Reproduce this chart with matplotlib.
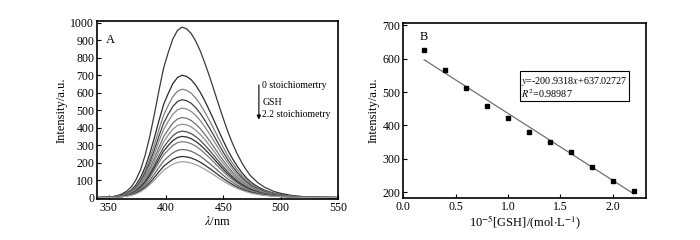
import numpy as np
import matplotlib
matplotlib.use('Agg')
import matplotlib.pyplot as plt

plt.rcParams['font.family'] = ['Liberation Serif', 'DejaVu Serif']
plt.rcParams['mathtext.fontset'] = 'stix'

# Panel A: emission spectra (profile of the strongest curve)
wavelength = [340, 345, 350, 354, 358, 362, 366, 370, 374, 378, 382, 386, 390,
              394, 398, 402, 406, 410, 414, 418, 422, 426, 430, 434, 438, 442,
              446, 450, 454, 458, 462, 466, 470, 474, 480, 486, 494, 500, 510,
              520, 530, 540, 550]
profile = [0.000, 0.001, 0.003, 0.006, 0.012, 0.022, 0.038, 0.064, 0.105, 0.165,
           0.250, 0.360, 0.490, 0.630, 0.760, 0.850, 0.930, 0.980, 1.000, 0.990,
           0.963, 0.918, 0.859, 0.788, 0.710, 0.628, 0.544, 0.463, 0.386, 0.318,
           0.258, 0.206, 0.162, 0.126, 0.088, 0.060, 0.036, 0.025, 0.012, 0.005,
           0.002, 0.001, 0.000]
peaks = [975, 700, 620, 560, 512, 458, 420, 380, 350, 320, 275, 235, 205]
colors = ['#3a3a3a', '#2a2a2a', '#808080', '#404040', '#8a8a8a', '#707070',
          '#909090', '#505050', '#2e2e2e', '#7a7a7a', '#6a6a6a', '#303030', '#a0a0a0']

# Panel B: peak intensity vs GSH
gsh = [0.2, 0.4, 0.6, 0.8, 1.0, 1.2, 1.4, 1.6, 1.8, 2.0, 2.2]
intensity = [625, 565, 513, 459, 421, 380, 350, 320, 276, 234, 203]
slope = -200.9318
intercept = 637.02727

fig = plt.figure(figsize=(7, 2.4), dpi=100)
axA = fig.add_axes([0.1386, 0.171, 0.3444, 0.7415])
axB = fig.add_axes([0.576, 0.175, 0.347, 0.729])

prof = np.array(profile)
for pk, c in zip(peaks, colors):
    axA.plot(wavelength, pk * prof, color=c, lw=0.9)

axA.set_xlim(340, 550)
axA.set_ylim(-8, 1010)
axA.set_xticks([350, 400, 450, 500, 550])
axA.set_yticks(range(0, 1001, 100))
axA.set_xlabel(r'$\lambda$/nm', fontsize=9, labelpad=1)
axA.set_ylabel('Intensity/a.u.', fontsize=9, labelpad=2)
axA.text(348, 885, 'A', fontsize=9)
axA.annotate('', xy=(481, 430), xytext=(481, 660),
             arrowprops=dict(arrowstyle='-|>', color='black', lw=0.8,
                             mutation_scale=6))
axA.text(484, 640, '0 stoichiomertry', fontsize=7, va='center')
axA.text(484, 545, 'GSH', fontsize=7, va='center')
axA.text(484, 478, '2.2 stoichiometry', fontsize=7, va='center')

gx = np.array(gsh)
axB.plot([gx[0], gx[-1]], [slope * gx[0] + intercept, slope * gx[-1] + intercept],
         color='#707070', lw=0.9)
axB.plot(gsh, intensity, 's', color='black', ms=3.5)
axB.set_xlim(0, 2.32)
axB.set_ylim(182, 707)
axB.set_xticks([0.0, 0.5, 1.0, 1.5, 2.0])
axB.set_xticklabels(['0.0', '0.5', '1.0', '1.5', '2.0'])
axB.set_yticks(range(200, 701, 100))
axB.set_xlabel(r'10$^{-5}$[GSH]/(mol$\cdot$L$^{-1}$)', fontsize=9, labelpad=1)
axB.set_ylabel('Intensity/a.u.', fontsize=9, labelpad=2)
axB.text(0.16, 655, 'B', fontsize=9)
axB.text(0.487, 0.705, '$y$=-200.9318$x$+637.02727\n$R^2$=0.98987',
         transform=axB.transAxes, fontsize=7.3, va='top', linespacing=0.95,
         bbox=dict(boxstyle='square,pad=0.12', fc='white', ec='black', lw=0.8))

for ax in (axA, axB):
    for s in ax.spines.values():
        s.set_linewidth(1.2)
    ax.tick_params(direction='in', top=False, right=False, labelsize=8.5,
                   length=3, width=0.8, pad=2)

fig.savefig('out.png', dpi=100)
